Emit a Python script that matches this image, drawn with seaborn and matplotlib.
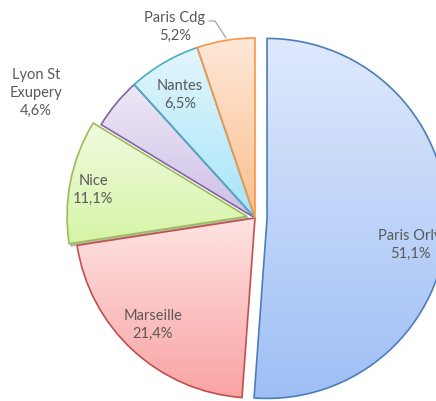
import numpy as np
import matplotlib
matplotlib.use("Agg")
import matplotlib.pyplot as plt
from matplotlib.patches import Shadow
from matplotlib.colors import ListedColormap
import seaborn as sns

# data (clockwise from 12 o'clock)
airports = ["Paris Orly", "Marseille", "Nice", "Lyon St\nExupery", "Nantes", "Paris Cdg"]
shares = [51.1, 21.4, 11.1, 4.6, 6.5, 5.2]
explode = [0.067, 0.0, 0.045, 0.0, 0.0, 0.0]  # fraction of radius

# gradient (top, bottom) and outline colours per slice
tops = ["#dfe9fc", "#ffe3e3", "#f1fbe0", "#eee8f6", "#e2f6fd", "#fee8d8"]
bottoms = ["#9ebff5", "#f9a3a3", "#d6f4a6", "#cdbfe6", "#a6e5f8", "#fbbf8e"]
edges = ["#4a7ebb", "#c0504d", "#9bbb59", "#8064a2", "#4bacc6", "#f79646"]

# label text positions in pixel space (x, y from top)
label_pos = [(410, 245), (153, 325), (93, 190), (36, 93), (180, 95), (175, 27)]

sns.set_style("white")
plt.rcParams["font.family"] = ["Lato", "DejaVu Sans"]

W, H = 436, 401
fig = plt.figure(figsize=(W / 100, H / 100), dpi=100)
ax = fig.add_axes([0, 0, 1, 1])

cx, cy, rad = 255, H - 218, 180
wedges, _ = ax.pie(
    shares,
    explode=[e * rad for e in explode],
    startangle=90,
    counterclock=False,
    center=(cx, cy),
    radius=rad,
    frame=True,
    wedgeprops=dict(linewidth=1.2),
)

grad = np.linspace(0, 1, 256).reshape(-1, 1)
for i, (w, t, b, e) in enumerate(zip(wedges, tops, bottoms, edges)):
    if i == 2:
        sh = Shadow(w, 1.5, -1.5, facecolor="#a0a0a0", edgecolor="#a0a0a0", alpha=0.7)
        sh.set_zorder(0.5)
        ax.add_patch(sh)
    ext = w.get_path().get_extents()
    cmap = ListedColormap(sns.blend_palette([b, t], 256))
    im = ax.imshow(grad, cmap=cmap, origin="lower", aspect="auto",
                   extent=[ext.x0, ext.x1, ext.y0, ext.y1], zorder=1,
                   interpolation="bilinear")
    im.set_clip_path(w)
    w.set_facecolor("none")
    w.set_edgecolor(e)
    w.set_zorder(3)

for name, val, (x, y) in zip(airports, shares, label_pos):
    ax.text(x, H - y, f"{name}\n{val:.1f}%".replace(".", ","),
            ha="center", va="center", fontsize=10.5, color="#595959",
            linespacing=1.35, zorder=5)

# leader line for Paris Cdg
ax.plot([209, 215, 226], [H - 21, H - 21, H - 38], color="#a6a6a6", lw=0.9, zorder=4)

ax.set_xlim(0, W)
ax.set_ylim(0, H)
ax.set_aspect("equal")
ax.axis("off")

fig.savefig("out.png", dpi=100)
